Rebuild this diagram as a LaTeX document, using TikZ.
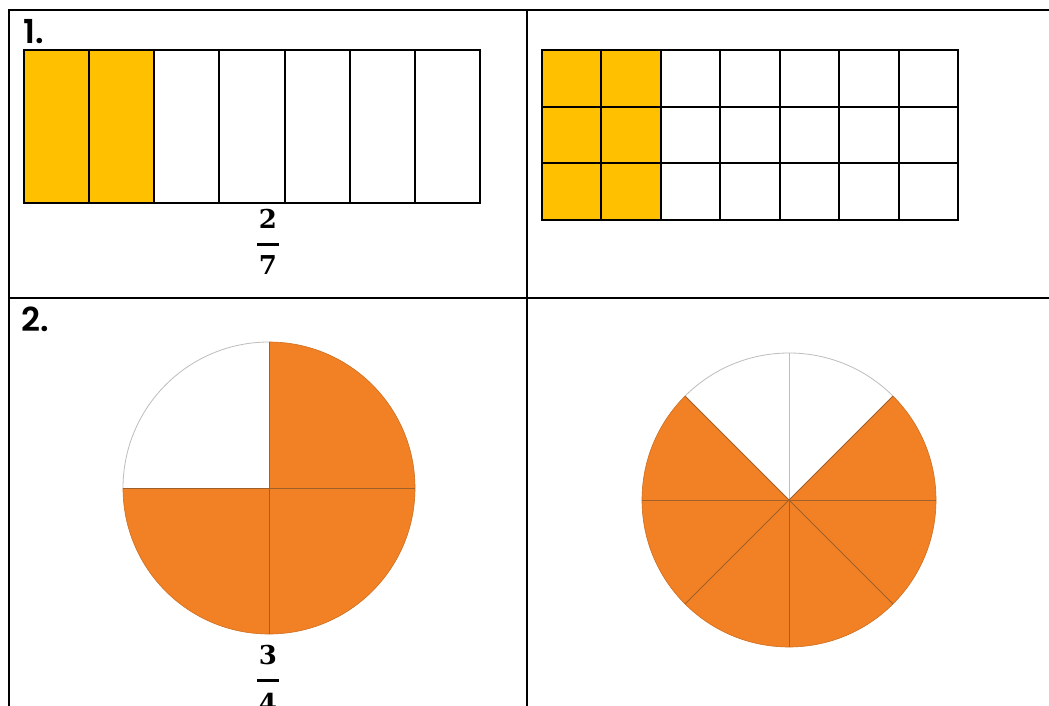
\documentclass[tikz,border=0pt]{standalone}
\usepackage{fontspec}
\newfontfamily\labelfont{Poppins}[UprightFont={* SemiBold}]
\newfontfamily\digitfont{DejaVu Serif}
\definecolor{gold}{HTML}{FFC000}
\definecolor{pieorange}{HTML}{F28125}
\definecolor{piedark}{HTML}{A0602A}
\definecolor{piegray}{HTML}{BDBDBD}
\tikzset{
  gridline/.style={line width=2pt, draw=black},
  tableline/.style={line width=2pt, draw=black},
  cellfill/.style={fill=gold},
  numlabel/.style={font=\labelfont\fontsize{33}{38}\selectfont, anchor=base west, inner sep=0pt},
  digit/.style={font=\digitfont\bfseries\fontsize{26}{30}\selectfont, inner sep=0pt},
  fracbar/.style={line width=3pt, draw=black},
  divider/.style={line width=1pt, draw=piedark},
  whiteedge/.style={line width=0.8pt, draw=piegray},
}
\begin{document}
\begin{tikzpicture}[x=1pt,y=-1pt]
\useasboundingbox[fill=white] (0,0) rectangle (1049,706);

% table
\draw[tableline] (9,10) -- (1049,10);
\draw[tableline] (9,298) -- (1049,298);
\draw[tableline] (9,9) -- (9,706);
\draw[tableline] (527,10) -- (527,706);

% labels
\node[numlabel] (label1) at (23,44) {1.};
\node[numlabel] (label2) at (21,331) {2.};

% 1. left bar (7 parts, 2 shaded)
\fill[cellfill] (24,50) rectangle (154.3,203);
\foreach \i in {0,...,7} {
  \draw[gridline] ({24+\i*65.14},50) -- ({24+\i*65.14},203);
}
\draw[gridline] (23,50) -- (481,50);
\draw[gridline] (23,203) -- (481,203);

% fraction 2/7
\node[digit] (num1) at (268,219) {2};
\node[digit] (den1) at (268,265) {7};
\draw[fracbar] (257,244) -- (279,244);

% 1. right grid (7 x 3, 2 columns shaded)
\fill[cellfill] (542,50) rectangle (660.9,220);
\foreach \i in {0,...,7} {
  \draw[gridline] ({542+\i*59.43},50) -- ({542+\i*59.43},220);
}
\foreach \j in {0,...,3} {
  \draw[gridline] (541,{50+\j*56.67}) -- (959,{50+\j*56.67});
}

% 2. left circle: 3/4 shaded
\coordinate (c1) at (269,488);
\fill[pieorange] (c1) -- ++(270:146) arc[start angle=270, end angle=540, radius=146] -- cycle;
\draw[whiteedge] (c1) ++(180:146) arc[start angle=180, end angle=270, radius=146];
\draw[pieorange!85!black, line width=0.6pt] (c1) ++(270:146) arc[start angle=270, end angle=540, radius=146];
\foreach \a in {0,90,180,270} {
  \draw[divider] (c1) -- ++(\a:146);
}

% fraction 3/4
\node[digit] (num2) at (268,655) {3};
\node[digit] (den2) at (268,703) {4};
\draw[fracbar] (257,680) -- (279,680);

% 2. right circle: 6/8 shaded
\coordinate (c2) at (789,500);
\fill[pieorange] (c2) -- ++(315:147) arc[start angle=315, end angle=585, radius=147] -- cycle;
\draw[whiteedge] (c2) ++(225:147) arc[start angle=225, end angle=315, radius=147];
\draw[pieorange!85!black, line width=0.6pt] (c2) ++(315:147) arc[start angle=315, end angle=585, radius=147];
\draw[whiteedge] (c2) -- ++(270:147);
\foreach \a in {0,45,90,135,180,225,315} {
  \draw[divider] (c2) -- ++(\a:147);
}
\end{tikzpicture}
\end{document}
